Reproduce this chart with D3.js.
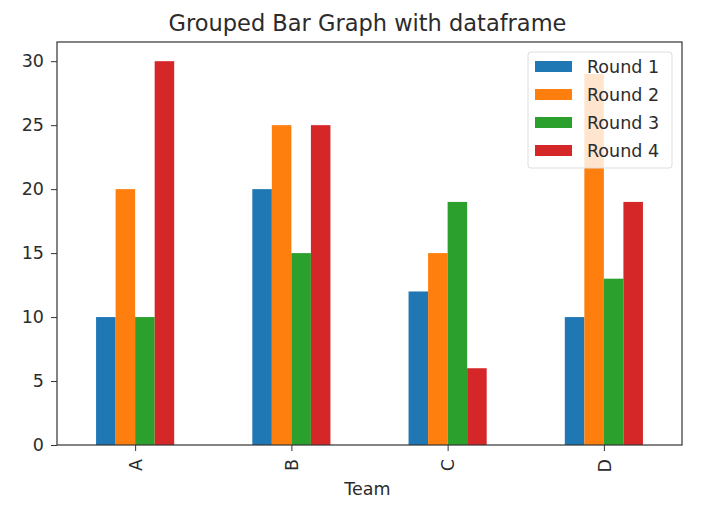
<!DOCTYPE html>
<html>
<head>
<meta charset="utf-8">
<script src="https://cdn.jsdelivr.net/npm/d3@7"></script>
<style>
  body { margin: 0; background: #fff; }
  text { font-family: "DejaVu Sans", sans-serif; fill: #2b2b2b; }
</style>
</head>
<body>
<div id="chart"></div>
<script>
// data
var teams = ["A", "B", "C", "D"];
var rounds = ["Round 1", "Round 2", "Round 3", "Round 4"];
var round1 = [10, 20, 12, 10];
var round2 = [20, 25, 15, 29];
var round3 = [10, 15, 19, 13];
var round4 = [30, 25, 6, 19];
var yTicks = [0, 5, 10, 15, 20, 25, 30];
var colors = ["#1f77b4", "#ff7f0e", "#2ca02c", "#d62728"];

var series = [round1, round2, round3, round4];

var W = 720, H = 513;
var margin = { top: 42, right: 38, bottom: 68, left: 57 },
  width = W - margin.left - margin.right,
  height = H - margin.top - margin.bottom;

var svg = d3.select("#chart").append("svg")
  .attr("width", W).attr("height", H);

var g = svg.append("g")
  .attr("transform", "translate(" + margin.left + "," + margin.top + ")");

// pandas style: one unit per team, x limits -0.5..n-0.5
var x = d3.scaleLinear().domain([-0.5, teams.length - 0.5]).range([0, width]);
var y = d3.scaleLinear().domain([0, 31.5]).range([height, 0]);
var bw = 0.5 / rounds.length;

// bars
series.forEach(function (vals, si) {
  g.append("g").attr("fill", colors[si])
    .selectAll("rect").data(vals).enter().append("rect")
    .attr("x", function (d, i) { return x(i - 0.25 + si * bw); })
    .attr("width", x(bw) - x(0))
    .attr("y", function (d) { return y(d); })
    .attr("height", function (d) { return y(0) - y(d); });
});

// frame
g.append("rect").attr("width", width).attr("height", height)
  .attr("fill", "none").attr("stroke", "#333").attr("stroke-width", 1.2);

// y axis
var yAxis = g.append("g").call(d3.axisLeft(y).tickValues(yTicks).tickSize(6).tickPadding(7));
yAxis.select(".domain").remove();
yAxis.selectAll("line").attr("stroke", "#333");
yAxis.selectAll("text").style("font-size", "17.5px").style("font-family", "DejaVu Sans");

// x axis
var xAxis = g.append("g").attr("transform", "translate(0," + height + ")")
  .call(d3.axisBottom(x).tickValues(d3.range(teams.length))
    .tickFormat(function (i) { return teams[i]; }).tickSize(6));
xAxis.select(".domain").remove();
xAxis.selectAll("line").attr("stroke", "#333");
xAxis.selectAll("text")
  .style("font-size", "17.5px").style("font-family", "DejaVu Sans")
  .attr("transform", "rotate(-90)")
  .attr("text-anchor", "end")
  .attr("x", -14).attr("y", 0).attr("dy", "0.35em");

// labels
svg.append("text").attr("x", margin.left + width / 2 - 2).attr("y", 31)
  .attr("text-anchor", "middle").style("font-size", "22.5px")
  .text("Grouped Bar Graph with dataframe");
svg.append("text").attr("x", margin.left + width / 2 - 2).attr("y", 495)
  .attr("text-anchor", "middle").style("font-size", "17.5px")
  .text("Team");

// legend
var lg = svg.append("g").attr("transform", "translate(528,52)");
lg.append("rect").attr("width", 144).attr("height", 116)
  .attr("rx", 3).attr("fill", "#fff").attr("fill-opacity", 0.8)
  .attr("stroke", "#ddd");
rounds.forEach(function (r, i) {
  lg.append("rect").attr("x", 7).attr("y", 9 + i * 28)
    .attr("width", 37).attr("height", 11).attr("fill", colors[i]);
  lg.append("text").attr("x", 59).attr("y", 14.5 + i * 28).attr("dy", "0.35em")
    .style("font-size", "17.5px").text(r);
});
</script>
</body>
</html>
